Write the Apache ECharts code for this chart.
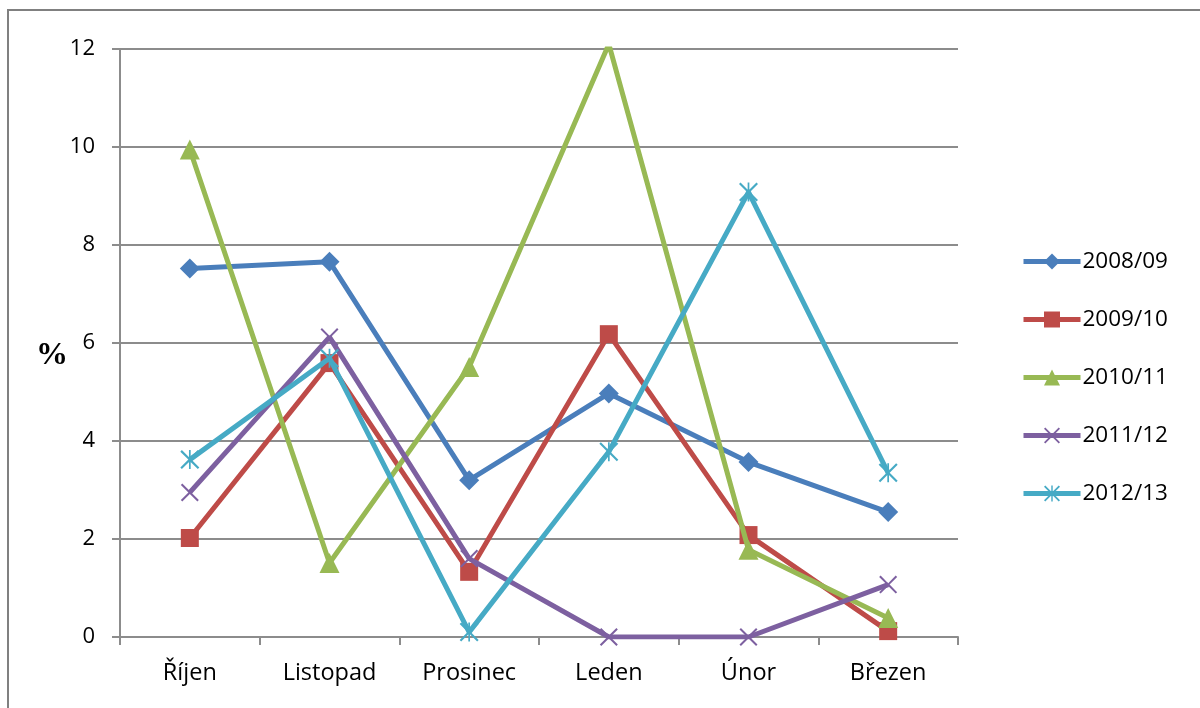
<!DOCTYPE html>
<html>
<head>
<meta charset="utf-8">
<script src="https://cdn.jsdelivr.net/npm/echarts@6/dist/echarts.min.js"></script>
<style>
  html, body { margin: 0; padding: 0; background: #fff; }
  #chart { width: 1200px; height: 708px; }
</style>
</head>
<body>
<div id="chart"></div>
<script>
// Months of the season
const months = ['Říjen', 'Listopad', 'Prosinec', 'Leden', 'Únor', 'Březen'];

// Share in % per season
const s2008 = [7.52, 7.66, 3.20, 4.97, 3.57, 2.55];
const s2009 = [2.02, 5.59, 1.33, 6.18, 2.08, 0.12];
const s2010 = [9.95, 1.51, 5.51, 12.10, 1.78, 0.39];
const s2011 = [2.95, 6.12, 1.60, 0.00, 0.00, 1.07];
const s2012 = [3.62, 5.69, 0.10, 3.78, 9.08, 3.35];

const seasonNames = ['2008/09', '2009/10', '2010/11', '2011/12', '2012/13'];
const yTicks = [0, 2, 4, 6, 8, 10, 12];

// Thin filled cross and asterisk shapes for marker symbols
const crossPath = 'path://M0,1.6L1.6,0L10,8.4L18.4,0L20,1.6L11.6,10L20,18.4L18.4,20L10,11.6L1.6,20L0,18.4L8.4,10Z';
const starPath = 'path://M0,1.6L1.6,0L10,8.4L18.4,0L20,1.6L11.6,10L20,18.4L18.4,20L10,11.6L1.6,20L0,18.4L8.4,10Z' +
                 'M9.1,0L10.9,0L10.9,20L9.1,20Z';

const colors = ['#4a7ebb', '#be4b48', '#98b954', '#7d60a0', '#46aac5'];
const symbols = ['diamond', 'rect', 'triangle', crossPath, starPath];
const sizes = [20, 18, 20, 18, 19];
const dataSets = [s2008, s2009, s2010, s2011, s2012];

const font = 'Open Sans, Noto Sans, sans-serif';

const series = dataSets.map((d, i) => ({
  name: seasonNames[i],
  type: 'line',
  data: d,
  symbol: symbols[i],
  symbolSize: sizes[i],
  showAllSymbol: true,
  lineStyle: { width: 5, color: colors[i] },
  itemStyle: { color: colors[i] },
  emphasis: { disabled: true },
  z: 2 + i
}));

const chart = echarts.init(document.getElementById('chart'), null, { renderer: 'canvas' });
chart.setOption({
  animation: false,
  backgroundColor: '#ffffff',
  color: colors,
  grid: { left: 120, right: 242, top: 49, bottom: 71, containLabel: false },
  xAxis: {
    type: 'category',
    data: months,
    boundaryGap: true,
    axisLine: { lineStyle: { color: '#8c8c8c', width: 2 } },
    axisTick: { show: true, length: 8, lineStyle: { color: '#8c8c8c', width: 2 } },
    axisLabel: { color: '#000', fontFamily: font, fontSize: 23.5, margin: 24 }
  },
  yAxis: {
    type: 'value',
    min: 0,
    max: 12,
    interval: 2,
    axisLine: { show: true, lineStyle: { color: '#8c8c8c', width: 2 } },
    axisTick: { show: true, length: 8, lineStyle: { color: '#8c8c8c', width: 2 } },
    axisLabel: {
      color: '#000', fontFamily: font, fontSize: 22, margin: 25,
      formatter: v => (yTicks.indexOf(v) >= 0 ? String(v) : '')
    },
    splitLine: { show: true, lineStyle: { color: '#8c8c8c', width: 2 } }
  },
  legend: {
    orient: 'vertical',
    left: 1016,
    top: 245,
    itemWidth: 57,
    itemHeight: 20,
    itemGap: 35,
    lineStyle: { width: 5 },
    textStyle: { color: '#000', fontFamily: font, fontSize: 22.5, padding: [0, 0, 0, -3] },
    data: seasonNames
  },
  graphic: [
    {
      type: 'rect',
      shape: { x: 8, y: 10, width: 1210, height: 720 },
      style: { fill: 'none', stroke: '#808080', lineWidth: 2 },
      silent: true, z: -1
    },
    {
      type: 'text',
      left: 36,
      top: 340,
      style: { text: '%', fill: '#000', font: 'bold 32px "Liberation Serif", serif' }
    }
  ],
  series: series
});
</script>
</body>
</html>
